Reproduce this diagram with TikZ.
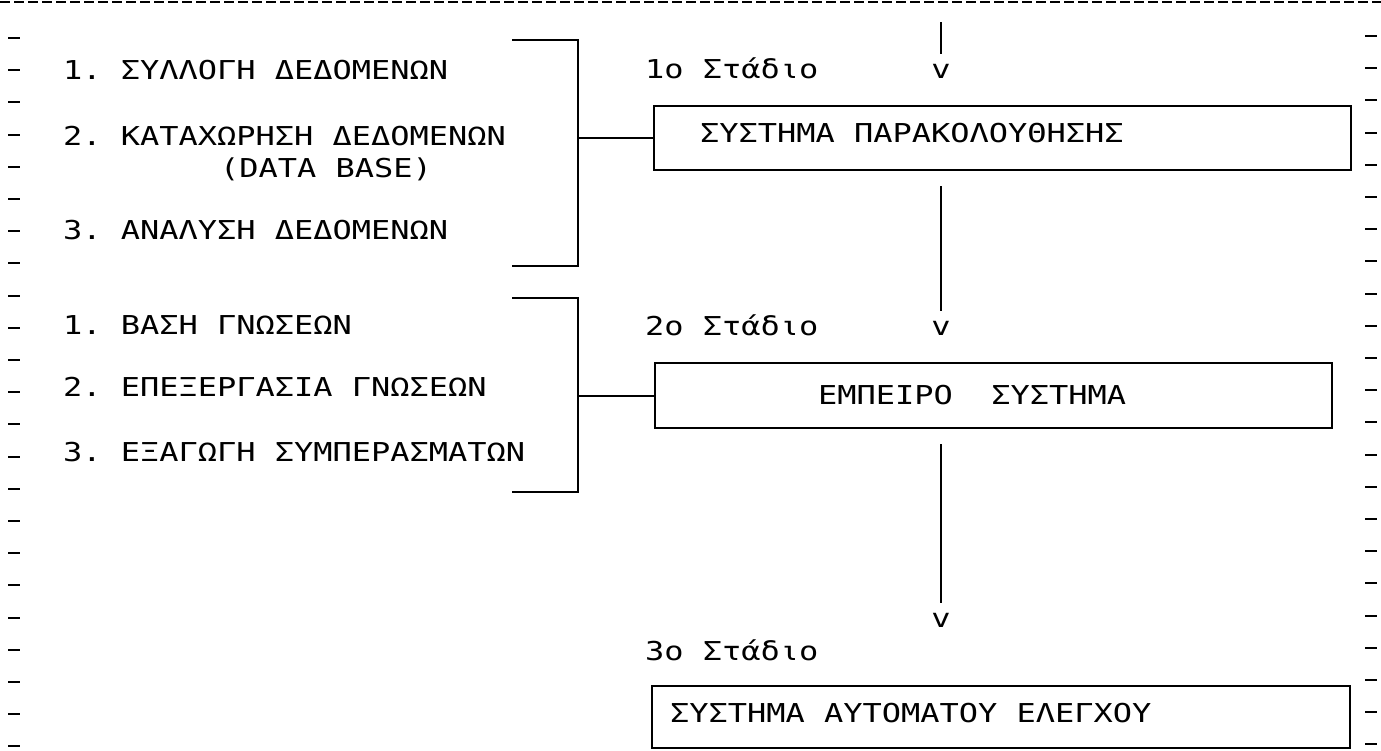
\documentclass[tikz,border=0pt]{standalone}
\usepackage{fontspec}
\newfontfamily\plotfont[FakeStretch=1.23]{DejaVu Sans Mono}
\usetikzlibrary{positioning}

\begin{document}
\begin{tikzpicture}[
  x=0.5pt, y=-0.5pt,
  font=\plotfont\fontsize{13}{16}\selectfont\frenchspacing,
  line width=1pt,
  listitem/.style={anchor=base west, inner sep=0pt},
  stagelabel/.style={anchor=base west, inner sep=0pt},
  stagebox/.style={rectangle, draw=black, line width=1pt, align=flush left},
  arrowv/.style={inner xsep=0pt, inner ysep=4.5pt},
  flow/.style={line width=1pt},
  pageframe/.style={line width=1pt, dash pattern=on 5pt off 2pt},
  margintick/.style={line width=1pt}
]
\useasboundingbox (0,0) rectangle (1381,750);
\draw [pageframe] (0,2) -- (1381,2);
\foreach \k in {0,...,22} {
  \draw [margintick] (8,{38+32.2*\k}) -- (20,{38+32.2*\k});
  \draw [margintick] (1365,{36+32.2*\k}) -- (1377,{36+32.2*\k});
}

\node (item11) [listitem] at (62,79) {1. ΣΥΛΛΟΓΗ ΔΕΔΟΜΕΝΩΝ};
\node (item12) [listitem] at (62,145) {2. ΚΑΤΑΧΩΡΗΣΗ ΔΕΔΟΜΕΝΩΝ};
\node (dbase) [listitem] at (219,177) {(DATA BASE)};
\node (item13) [listitem] at (62,239) {3. ΑΝΑΛΥΣΗ ΔΕΔΟΜΕΝΩΝ};
\node (item21) [listitem] at (62,334) {1. ΒΑΣΗ ΓΝΩΣΕΩΝ};
\node (item22) [listitem] at (62,396) {2. ΕΠΕΞΕΡΓΑΣΙΑ ΓΝΩΣΕΩΝ};
\node (item23) [listitem] at (62,461) {3. ΕΞΑΓΩΓΗ ΣΥΜΠΕΡΑΣΜΑΤΩΝ};

\node (stage1) [stagelabel] at (644,78) {1ο Στάδιο};
\node (stage2) [stagelabel] at (644,335) {2ο Στάδιο};
\node (stage3) [stagelabel] at (644,660) {3ο Στάδιο};

\node (monitor) [stagebox, minimum height=32pt, text width=302.5pt, inner xsep=23pt, text depth=5pt] at (1002.5,138) {ΣΥΣΤΗΜΑ ΠΑΡΑΚΟΛΟΥΘΗΣΗΣ};
\node (expert) [stagebox, minimum height=32.5pt, text width=175.5pt, inner xsep=81.5pt] at (993.5,395.5) {ΕΜΠΕΙΡΟ~~ΣΥΣΤΗΜΑ};
\node (control) [stagebox, minimum height=31pt, text width=331pt, inner xsep=9pt, text depth=4.5pt] at (1001,717) {ΣΥΣΤΗΜΑ ΑΥΤΟΜΑΤΟΥ ΕΛΕΓΧΟΥ};

\coordinate (entry) at (941,22);
\node (v1) [arrowv] at (941,71) {v};
\node (v2) [arrowv] at (941,328) {v};
\node (v3) [arrowv] at (941,620) {v};
\draw [flow] (entry) -- (v1);
\draw [flow, shorten <=7.5pt] (v2 |- monitor.south) -- (v2);
\draw [flow, shorten <=7.5pt] (v3 |- expert.south) -- (v3);

\coordinate (br1top) at (578,40);
\coordinate (br1bot) at (578,266);
\coordinate (br2top) at (578,298);
\coordinate (br2bot) at (578,492);
\draw ([xshift=-33pt]br1top) -- (br1top) -- (br1bot) -- ([xshift=-33pt]br1bot);
\draw ([xshift=-33pt]br2top) -- (br2top) -- (br2bot) -- ([xshift=-33pt]br2bot);
\draw (br1top |- monitor.west) -- (monitor.west);
\draw (br2top |- expert.west) -- (expert.west);
\end{tikzpicture}
\end{document}
